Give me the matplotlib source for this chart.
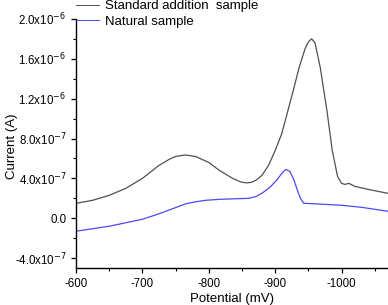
import numpy as np
import matplotlib
matplotlib.use('Agg')
import matplotlib.pyplot as plt
from matplotlib.ticker import MultipleLocator, FuncFormatter

plt.rcParams['font.family'] = ['Liberation Sans', 'DejaVu Sans']

# Standard addition sample (potential in mV, current in units of 1e-7 A)
std_pot = [-600, -625, -650, -675, -700, -725, -740, -750, -765, -780, -800, -816,
           -836, -848, -856, -864, -872, -880, -890, -900, -910, -918, -928, -936, -945,
           -950, -955, -960, -968, -978, -986, -994, -1000, -1005, -1011,
           -1020, -1040, -1070]
std_cur = [1.5, 1.8, 2.3, 3.0, 4.0, 5.3, 5.9, 6.2, 6.35, 6.2, 5.6, 4.8,
           4.0, 3.65, 3.55, 3.6, 3.85, 4.3, 5.3, 6.8, 8.5, 10.5, 13.0, 15.1, 17.0,
           17.7, 18.0, 17.6, 15.1, 10.8, 6.8, 4.2, 3.5, 3.4, 3.5,
           3.2, 2.9, 2.5]

# Natural sample
nat_pot = [-600, -650, -700, -725, -750, -765, -780, -795, -816, -860, -872, -882, -892,
           -902, -910, -916, -922, -928, -933, -938, -943, -960, -1000, -1030, -1070]
nat_cur = [-1.3, -0.8, -0.1, 0.45, 1.07, 1.45, 1.65, 1.8, 1.9, 2.0, 2.2, 2.6, 3.1,
           3.8, 4.5, 4.9, 4.7, 3.9, 2.9, 2.0, 1.5, 1.45, 1.3, 1.1, 0.7]

std_cur = np.array(std_cur) * 1e-7
nat_cur = np.array(nat_cur) * 1e-7

fig = plt.figure(figsize=(3.88, 3.05), dpi=100)
ax = fig.add_axes([0.196, 0.121, 0.804, 0.817])

ax.plot(std_pot, std_cur, color='#505050', lw=0.9, label='Standard addition  sample')
ax.plot(nat_pot, nat_cur, color='#4a4af0', lw=0.9, label='Natural sample')

ax.set_xlim(-600, -1070)
ax.set_ylim(-5e-7, 2.0e-6)
ax.xaxis.set_major_locator(MultipleLocator(100))
ax.xaxis.set_minor_locator(MultipleLocator(50))
ax.yaxis.set_major_locator(MultipleLocator(4e-7))
ax.yaxis.set_minor_locator(MultipleLocator(2e-7))


def yfmt(v, pos):
    if abs(v) < 1e-12:
        return '0.0'
    exp = int(np.floor(np.log10(abs(v))))
    mant = v / 10**exp
    return r'%.1fx10$^{%d}$' % (mant, exp)


ax.yaxis.set_major_formatter(FuncFormatter(yfmt))
ax.xaxis.set_major_formatter(FuncFormatter(lambda v, p: '%d' % v))

for s in ['top', 'right']:
    ax.spines[s].set_visible(False)
for s in ['left', 'bottom']:
    ax.spines[s].set_linewidth(1.0)
ax.tick_params(which='major', direction='out', length=3.5, width=0.9, labelsize=8.3)
ax.tick_params(which='minor', direction='out', length=2, width=0.8)

ax.set_xlabel('Potential (mV)', fontsize=9.5, labelpad=2)
ax.set_ylabel('Current (A)', fontsize=9.5)
ax.yaxis.set_label_coords(-0.185, 0.49)

leg = fig.legend(loc='upper left', bbox_to_anchor=(0.196, 1.0), frameon=False,
                 fontsize=9.5, handlelength=1.75, handletextpad=0.45, labelspacing=0.25,
                 borderaxespad=0, borderpad=0)
for h in leg.get_lines():
    h.set_linewidth(0.7)

fig.savefig('out.png', dpi=100)
